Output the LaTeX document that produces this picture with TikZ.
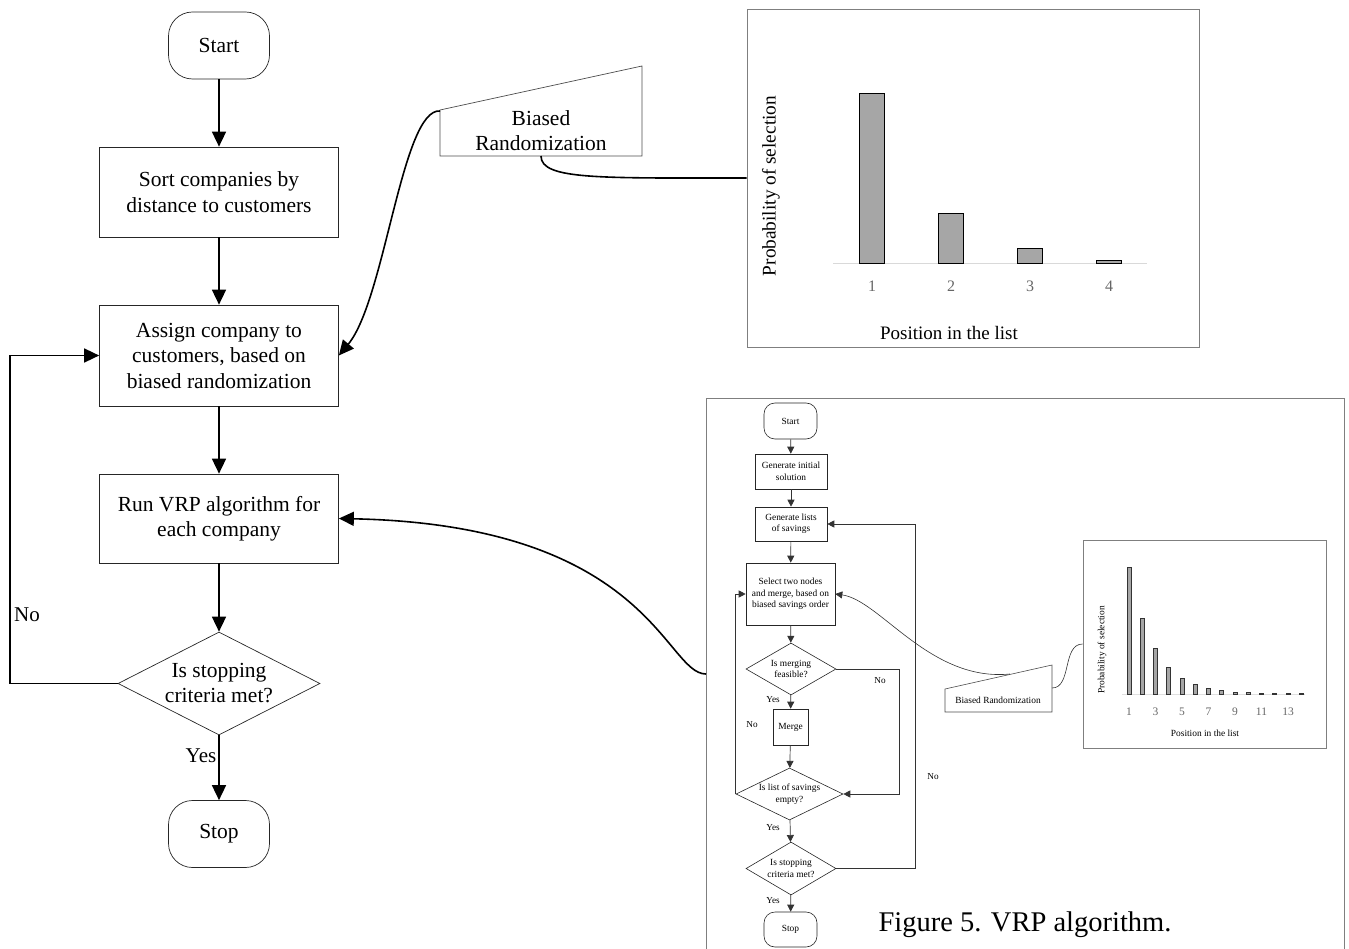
\documentclass[tikz,border=0pt]{standalone}
\usepackage{fontspec}
\setmainfont{Liberation Serif}
\usetikzlibrary{shapes.geometric,arrows.meta,calc}
\definecolor{bargray}{HTML}{A6A6A6}
\definecolor{framegray}{HTML}{7F7F7F}
\tikzset{
  box/.style={draw=black!85,line width=0.7pt,rectangle,align=center,inner sep=0pt,font=\fontsize{21.5}{25.5}\selectfont},
  term/.style={box,rounded corners=24pt},
  dec/.style={draw=black!85,line width=0.7pt,diamond,aspect=2,inner sep=0pt,align=center,font=\fontsize{21.5}{25}\selectfont},
  arr/.style={line width=1.6pt,-{Triangle[length=15pt,width=14pt]}},
  sbox/.style={draw=black!85,line width=0.6pt,rectangle,align=center,inner sep=0pt,font=\fontsize{9.4}{11.5}\selectfont},
  sterm/.style={sbox,rounded corners=11pt},
  sdec/.style={draw=black!85,line width=0.6pt,diamond,aspect=2,inner sep=0pt,align=center,font=\fontsize{9.4}{11.5}\selectfont},
  sarr/.style={line width=0.7pt,draw=black!80,-{Triangle[length=7pt,width=7pt]}},
  lbl/.style={font=\fontsize{21}{24}\selectfont,inner sep=0pt},
  slbl/.style={font=\fontsize{9.2}{10}\selectfont,inner sep=0pt},
  bar/.style={draw=black,line width=1pt,fill=bargray},
  sbar/.style={draw=black!80,line width=0.6pt,fill=bargray},
}
\begin{document}
\begin{tikzpicture}[x=1pt,y=-1pt]
\useasboundingbox (0,0) rectangle (1349,949);

% ---------------- main flowchart ----------------
\node[term,minimum width=101pt,minimum height=67pt] (start) at (219,45.5) {Start};
\node[box,minimum width=239pt,minimum height=90pt] (sort) at (219,192) {Sort companies by\\distance to customers};
\node[box,minimum width=239pt,minimum height=101pt] (assign) at (219,355.5) {Assign company to\\customers, based on\\biased randomization};
\node[box,minimum width=239pt,minimum height=89pt] (run) at (219,518.5) {Run VRP algorithm for\\each company};
\node[dec,minimum width=202pt,minimum height=103pt] (stopq) at (219,683.5) {Is stopping\\criteria met?};
\node[term,minimum width=101pt,minimum height=67pt] (stop) at (219,834) {\raisebox{-2pt}{Stop}};

\draw[arr] (start) -- (sort);
\draw[arr] (sort) -- (assign);
\draw[arr] (assign) -- (run);
\draw[arr] (run) -- (stopq);
\draw[arr] (stopq) -- (stop);
\draw[arr] (stopq.west) -- (10,683.5) |- (assign.west);
\node[lbl] (yes1) at (201,756) {Yes};
\node[lbl] (no1) at (27,615) {No};

% ---------------- biased randomization (top) ----------------
\draw[draw=black!70,line width=0.7pt] (440,110) -- (642,66) -- (642,156) -- (440,156) -- cycle;
\node[align=center,font=\fontsize{21.5}{25}\selectfont,inner sep=0pt] (br) at (541,131) {Biased\\Randomization};
\coordinate (brL) at (440,111);
\coordinate (brB) at (541,156);

% ---------------- top chart ----------------
\node[draw=framegray,line width=0.7pt,minimum width=452pt,minimum height=338pt,inner sep=0pt] (chart1) at (973,178) {};
\draw[black!15,line width=1pt] (833,264) -- (1147,264);
\draw[bar] (859,264) rectangle (884,94);
\draw[bar] (938,264) rectangle (963,214);
\draw[bar] (1017,264) rectangle (1042,249);
\draw[bar] (1096,264) rectangle (1121,260.5);
\foreach \i/\x in {1/872,2/951,3/1030,4/1109}
  \node[font=\fontsize{16}{16}\selectfont,text=black!60,inner sep=0pt] (t\i) at (\x,286) {\i};
\node[font=\fontsize{19}{19}\selectfont,inner sep=0pt] (xl1) at (949,333) {Position in the list};
\node[font=\fontsize{19.3}{19}\selectfont,inner sep=0pt,rotate=90] (yl1) at (771,186) {Probability of selection};

\draw[arr] (brL) .. controls (402,108) and (385,300) .. (assign.east);
\draw[line width=1.6pt] (brB) .. controls (541,180) and (600,178) .. (chart1.west);

% ---------------- small frame ----------------
\draw[draw=framegray,line width=0.8pt] (706,949) -- (706,398) -- (1344,398) -- (1344,949);
\coordinate (sf) at (706,674);
\draw[arr] (sf) .. controls (665,674) and (650,525) .. (run.east);

% small flowchart
\node[sterm,minimum width=53pt,minimum height=36pt] (sstart) at (790.5,421) {Start};
\node[sbox,minimum width=72pt,minimum height=35pt] (sinit) at (791,471.5) {Generate initial\\solution};
\node[sbox,minimum width=72pt,minimum height=34pt] (slists) at (791,524) {Generate lists\\of savings};
\node[sbox,minimum width=89pt,minimum height=62pt] (ssel) at (790.5,594) {Select two nodes\\and merge, based on\\biased savings order};
\node[sdec,minimum width=90pt,minimum height=52pt] (sd1) at (791,669) {Is merging\\feasible?};
\node[sbox,minimum width=35pt,minimum height=36pt] (smerge) at (790.5,727) {Merge};
\node[sdec,minimum width=107pt,minimum height=52pt] (sd2) at (789.5,794) {Is list of savings\\empty?};
\node[sdec,minimum width=90pt,minimum height=53pt] (sd3) at (791,868.5) {Is stopping\\criteria met?};
\node[sterm,minimum width=53pt,minimum height=35pt] (sstop) at (790.5,929.5) {Stop};

\draw[sarr] (sstart) -- (sinit);
\draw[sarr] (sinit) -- (slists);
\draw[sarr] (slists) -- (ssel);
\draw[sarr] (ssel) -- (sd1);
\draw[sarr] (sd1) -- (smerge);
\draw[sarr] (smerge) -- (sd2);
\draw[sarr] (sd2) -- (sd3);
\draw[sarr] (sd3) -- (sstop);
\draw[sarr] (sd1.east) -- ++(63,0) |- (sd2.east);
\draw[sarr] (sd2.west) |- (ssel.west);
\draw[sarr] (sd3.east) -- ++(79,0) |- (slists.east);
\node[slbl] (sy1) at (773,700) {Yes};
\node[slbl] (sy2) at (773,828) {Yes};
\node[slbl] (sy3) at (773,901) {Yes};
\node[slbl] (sn1) at (880,681) {No};
\node[slbl] (sn2) at (752,725) {No};
\node[slbl] (sn3) at (933,777) {No};

% small biased randomization
\draw[draw=black!70,line width=0.6pt] (945,689) -- (1052,665) -- (1052,712) -- (945,712) -- cycle;
\node[font=\fontsize{9.4}{10}\selectfont,inner sep=0pt] (sbr) at (998,700.5) {Biased Randomization};
\coordinate (sbrT) at (1010,674);
\coordinate (sbrR) at (1052,688);
\draw[sarr,line width=0.6pt] (sbrT) .. controls (930,682) and (880,600) .. (ssel.east);

% small chart
\node[draw=framegray,line width=0.7pt,minimum width=243pt,minimum height=208pt,inner sep=0pt] (chart2) at (1204.5,644) {};
\draw[black!80,line width=0.6pt] (sbrR) .. controls (1072,688) and (1062,644) .. (chart2.west);
\draw[black!12,line width=1pt] (1122,694) -- (1305,694);
\foreach \k/\h in {0/127,1/76,2/46,3/27,4/16,5/10,6/5.5,7/3.5,8/2.2,9/1.6,10/1.2,11/1,12/1,13/1}
  \draw[sbar] ({1127+13.25*\k},694) rectangle ({1131+13.25*\k},{694-\h});
\foreach \n/\k in {1/0,3/2,5/4,7/6,9/8,11/10,13/12}
  \node[font=\fontsize{11.5}{11}\selectfont,text=black!60,inner sep=0pt] (u\n) at ({1129+13.25*\k},712) {\n};
\node[font=\fontsize{9.4}{8}\selectfont,inner sep=0pt] (xl2) at (1205,733) {Position in the list};
\node[font=\fontsize{9.4}{8}\selectfont,inner sep=0pt,rotate=90] (yl2) at (1102,650) {Probability of selection};

% caption
\node[font=\fontsize{28.5}{30}\selectfont,inner sep=0pt] (cap) at (1025,925) {Figure 5. VRP algorithm.};
\end{tikzpicture}
\end{document}
